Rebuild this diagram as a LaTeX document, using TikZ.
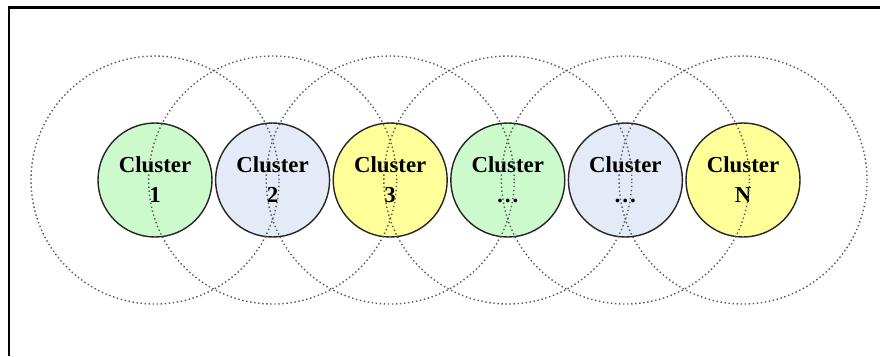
\documentclass[tikz,border=0pt]{standalone}
\usepackage{fontspec}
\setmainfont{Liberation Serif}

\definecolor{clgreen}{RGB}{204,250,204}
\definecolor{clblue}{RGB}{228,234,246}
\definecolor{clyellow}{RGB}{255,255,153}

\begin{document}
\begin{tikzpicture}
        \tikzstyle{every node}=[font=\fontsize{13}{17}\selectfont\bfseries]
        \tikzstyle{cluster}=[circle, draw=black!85, line width=0.8pt, minimum size=2.28cm, inner sep=0pt, align=center]
        \tikzstyle{reach}=[black!65, line width=0.8pt, dash pattern=on 0.8pt off 1.5pt]

        \useasboundingbox (0,0) rectangle (17.6,-7.12);
        \draw[line width=1.3pt] (0.18,-7.12) -- (0.18,-0.15) -- (17.6,-0.15);

        \node[cluster, fill=clgreen]  (cl1) at (3.1,-3.6)   {Cluster\\1};
        \node[cluster, fill=clblue]   (cl2) at (5.452,-3.6) {Cluster\\2};
        \node[cluster, fill=clyellow] (cl3) at (7.804,-3.6) {Cluster\\3};
        \node[cluster, fill=clgreen]  (cl4) at (10.156,-3.6) {Cluster\\\ldots};
        \node[cluster, fill=clblue]   (cl5) at (12.508,-3.6) {Cluster\\\ldots};
        \node[cluster, fill=clyellow] (clN) at (14.86,-3.6) {Cluster\\N};

        \draw[reach] (cl1.center) circle (2.48);
        \draw[reach] (cl2.center) circle (2.48);
        \draw[reach] (cl3.center) circle (2.48);
        \draw[reach] (cl4.center) circle (2.48);
        \draw[reach] (cl5.center) circle (2.48);
        \draw[reach] (clN.center) circle (2.48);

    \end{tikzpicture}
\end{document}
